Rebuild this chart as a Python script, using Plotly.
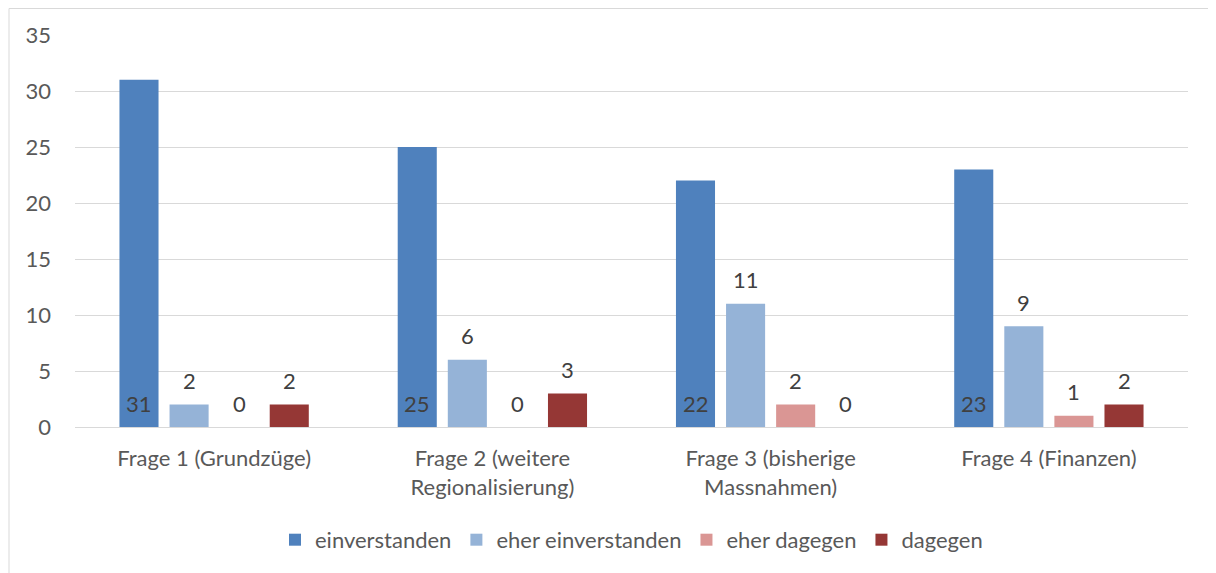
import plotly.graph_objs as go

categories = [
    "Frage 1 (Grundzüge)",
    "Frage 2 (weitere<br>Regionalisierung)",
    "Frage 3 (bisherige<br>Massnahmen)",
    "Frage 4 (Finanzen)",
]
einverstanden = [31, 25, 22, 23]
eher_einverstanden = [2, 6, 11, 9]
eher_dagegen = [0, 0, 2, 1]
dagegen = [2, 3, 0, 2]

series = [
    ("einverstanden", einverstanden, "#4F81BD"),
    ("eher einverstanden", eher_einverstanden, "#95B3D7"),
    ("eher dagegen", eher_dagegen, "#DA9694"),
    ("dagegen", dagegen, "#953735"),
]

font = "Lato, Calibri, Carlito, sans-serif"
bargap = 0.28
slot = (1 - bargap) / len(series)

fig = go.Figure()
annotations = []
for i, (name, vals, color) in enumerate(series):
    fig.add_trace(
        go.Bar(
            x=categories,
            y=vals,
            name=name,
            marker=dict(color=color, line=dict(width=0)),
        )
    )
    # data labels: first series sits at the bar base, the others above the bar
    offset = -(1 - bargap) / 2 + slot * (i + 0.5)
    for j, v in enumerate(vals):
        annotations.append(
            dict(
                x=j + offset,
                y=0 if i == 0 else v,
                xref="x",
                yref="y",
                text=str(v),
                showarrow=False,
                yanchor="middle",
                yshift=24,
                font=dict(size=22, color="#404040", family=font),
            )
        )

fig.update_layout(
    width=1208,
    height=565,
    barmode="group",
    bargap=bargap,
    bargroupgap=0.22,
    paper_bgcolor="white",
    plot_bgcolor="white",
    margin=dict(l=67, r=28, t=27, b=146),
    font=dict(family=font, size=22, color="#595959"),
    annotations=annotations,
    legend=dict(
        orientation="h",
        x=0.5,
        xanchor="center",
        y=-0.288,
        yanchor="middle",
        font=dict(size=22, color="#595959"),
        itemwidth=30,
        traceorder="normal",
    ),
    xaxis=dict(
        showgrid=False,
        showline=True,
        linecolor="#D9D9D9",
        linewidth=1,
        ticks="",
        ticklabelstandoff=12,
        tickfont=dict(size=22, color="#595959"),
    ),
    yaxis=dict(
        range=[0, 35],
        dtick=5,
        showgrid=True,
        gridcolor="#D9D9D9",
        zeroline=False,
        ticks="",
        ticklabelstandoff=23,
        tickfont=dict(size=22, color="#595959"),
    ),
    shapes=[
        dict(
            type="rect",
            xref="paper",
            yref="paper",
            x0=(1 - 67) / 1113,
            x1=(1204 - 67) / 1113,
            y0=(419 - 570) / 392,
            y1=(419 - 0.5) / 392,
            line=dict(color="#D9D9D9", width=1),
            layer="below",
        )
    ],
)

fig.write_html("out.html")
